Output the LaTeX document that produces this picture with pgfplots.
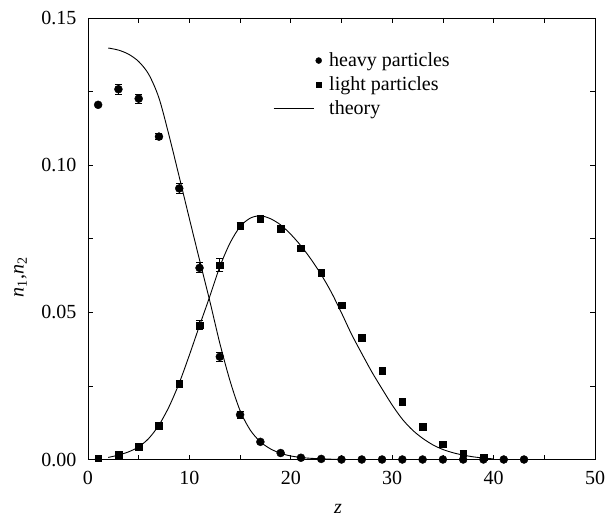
\documentclass[border=0pt]{standalone}
\usepackage{fontspec}
\setmainfont{Liberation Serif}
\usepackage{pgfplots}
\usepackage{pgfplotstable}
\pgfplotsset{compat=1.18}

% legend images share one 48pt box so the marks sit at the right end of the line
\pgfplotsset{
    circlegend/.style={legend image code/.code={\path[draw=none, fill=none] (0pt,-3pt) rectangle (48pt,3pt);
        \draw[##1, mark size=3pt] plot coordinates {(45pt,0pt)};}},
    sqlegend/.style={legend image code/.code={\path[draw=none, fill=none] (0pt,-3pt) rectangle (48pt,3pt);
        \draw[##1, mark size=2.7pt] plot coordinates {(45pt,0pt)};}},
    linelegend/.style={legend image code/.code={\path[draw=none, fill=none] (0pt,-3pt) rectangle (48pt,3pt);
        \draw[##1] (0pt,0pt) -- (40pt,0pt);}},
}

% simulation points: x, value, error
\pgfplotstableread{
x y e
1 0.1205 0
3 0.1258 0.0016
5 0.1226 0.0015
7 0.1097 0.0010
9 0.0921 0.0017
11 0.0651 0.0017
13 0.0349 0.0016
15 0.0152 0.0012
17 0.0060 0
19 0.0022 0
21 0.0006 0
23 0.0002 0
25 0 0
27 0 0
29 0 0
31 0 0
33 0 0
35 0 0
37 0 0
39 0 0
41 0 0
43 0 0
}\heavy

\pgfplotstableread{
x y e
1 0.0005 0
3 0.0016 0
5 0.0043 0.0004
7 0.0115 0.0010
9 0.0258 0.0012
11 0.0456 0.0015
13 0.0660 0.0022
15 0.0794 0.0012
17 0.0817 0.0012
19 0.0784 0.0010
21 0.0718 0.0005
23 0.0635 0.0005
25 0.0524 0.0006
27 0.0414 0.0008
29 0.0302 0.0006
31 0.0196 0.0010
33 0.0111 0.0008
35 0.0052 0.0005
37 0.0022 0.0008
39 0.0008 0.0005
}\light

% theory curves
\pgfplotstableread{
x y
2 0.1398
3 0.1391
4 0.1377
5 0.1352
6 0.1308
7 0.1228
8 0.1100
9 0.0960
10 0.0818
11 0.0678
12 0.0540
13 0.0395
14 0.0268
15 0.0166
16 0.0100
17 0.0060
18 0.0036
19 0.0021
20 0.0012
21 0.0007
22 0.0004
24 0.0001
26 0.0000
30 0.0000
35 0.0000
40 0.0000
}\heavytheory

\pgfplotstableread{
x y
2 0.0007
3 0.0015
4 0.0026
5 0.0043
6 0.0072
7 0.0117
8 0.0180
9 0.0260
10 0.0355
11 0.0455
12 0.0553
13 0.0655
14 0.0735
15 0.0791
16 0.0820
17 0.0828
18 0.0818
19 0.0797
20 0.0765
21 0.0726
22 0.0680
23 0.0628
24 0.0568
25 0.0498
26 0.0425
27 0.0360
28 0.0297
29 0.0240
30 0.0185
31 0.0137
32 0.0100
33 0.0072
34 0.0050
35 0.0034
36 0.0023
37 0.0015
38 0.0009
39 0.0005
40 0.0002
}\lighttheory

\begin{document}
\begin{tikzpicture}
\useasboundingbox (-88pt,-59.5pt) rectangle (519pt,459.5pt);
\begin{axis}[
    at={(0,0)}, anchor=south west,
    scale only axis,
    width=507pt, height=441.5pt,
    xmin=0, xmax=50, ymin=0, ymax=0.15,
    xtick={0,10,...,50}, minor xtick={5,15,...,45},
    ytick={0,0.05,0.10,0.15}, minor ytick={0.025,0.075,0.125},
    xtick pos=both, ytick pos=both,
    xticklabel pos=left, yticklabel pos=left,
    tick align=inside,
    major tick length=5pt, minor tick length=5pt,
    scaled y ticks=false,
    /pgf/number format/assume math mode=true,
    tick label style={font=\fontsize{20}{24}\selectfont},
    yticklabel style={/pgf/number format/fixed, /pgf/number format/fixed zerofill,
        /pgf/number format/precision=2, xshift=-8pt},
    xticklabel style={yshift=-8pt},
    axis line style={line width=0.9pt},
    every tick/.style={line width=0.8pt, black},
    xlabel={\textit{z}},
    ylabel={\textit{n}\textsubscript{1},\textit{n}\textsubscript{2}},
    every axis x label/.style={at={(axis description cs:0.493,-0.113)}, anchor=center, font=\fontsize{20}{24}\selectfont},
    every axis y label/.style={at={(axis description cs:-0.133,0.413)}, anchor=center, rotate=90, font=\fontsize{20}{24}\selectfont},
    legend style={at={(axis description cs:0.365,0.926)}, anchor=north west,
        draw=none, fill=none, inner sep=0pt, row sep=4.5pt, column sep=6pt,
        nodes={inner xsep=1.5pt, inner ysep=2pt},
        font=\fontsize{20}{24}\selectfont},
    legend cell align=left,
]
\addplot[black, only marks, mark=*, mark size=4pt, circlegend,
    error bars/.cd, y dir=both, y explicit,
    error bar style={line width=0.8pt},
    error mark options={rotate=90, mark size=3.5pt, line width=0.8pt}]
    table[x=x, y=y, y error=e] {\heavy};
\addlegendentry{heavy particles}
\addplot[black, only marks, mark=square*, mark size=3.3pt, sqlegend,
    error bars/.cd, y dir=both, y explicit,
    error bar style={line width=0.8pt},
    error mark options={rotate=90, mark size=3.5pt, line width=0.8pt}]
    table[x=x, y=y, y error=e] {\light};
\addlegendentry{light particles}
\addplot[black, line width=0.9pt, smooth, no marks, linelegend]
    table[x=x, y=y] {\heavytheory};
\addlegendentry{theory}
\addplot[black, line width=0.9pt, smooth, no marks, forget plot]
    table[x=x, y=y] {\lighttheory};
\end{axis}
\end{tikzpicture}
\end{document}
